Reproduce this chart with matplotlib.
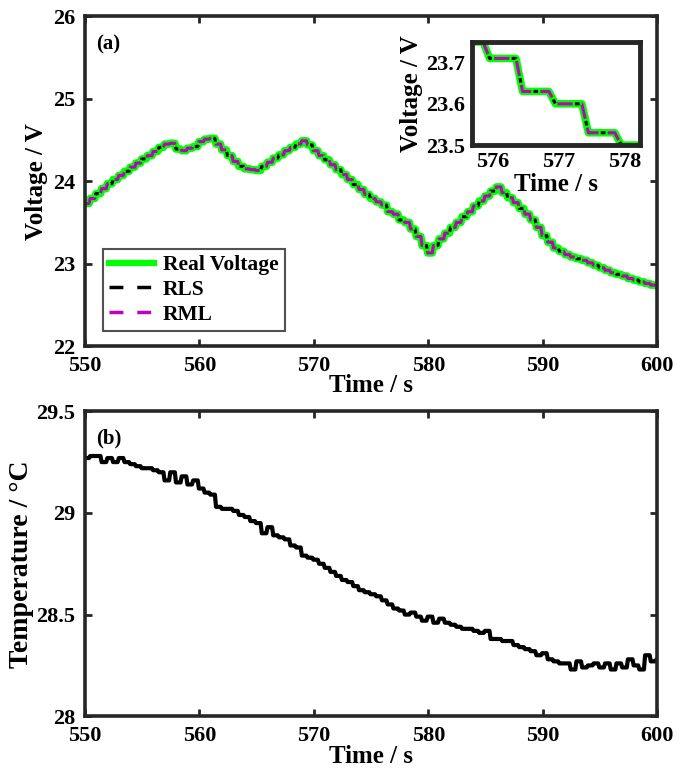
import numpy as np
import matplotlib as mpl

mpl.use("Agg")
from matplotlib import pyplot as plt
from matplotlib.lines import Line2D

plt.rcParams['font.family'] = ['Liberation Serif', 'DejaVu Serif']
plt.rcParams['font.weight'] = 'bold'
plt.rcParams['axes.labelweight'] = 'bold'

# 电压数据, 每 0.5 s 一个值 (550 s ~ 600 s)
volt = [23.73, 23.79, 23.85, 23.91, 23.97, 24.02, 24.07, 24.12, 24.17, 24.22,
        24.27, 24.31, 24.36, 24.41, 24.45, 24.46, 24.39, 24.37, 24.40, 24.42,
        24.48, 24.51, 24.52, 24.45, 24.38, 24.31, 24.24, 24.18, 24.15, 24.14,
        24.13, 24.18, 24.23, 24.28, 24.32, 24.37, 24.41, 24.45, 24.49, 24.44,
        24.37, 24.31, 24.26, 24.20, 24.14, 24.08, 24.02, 23.96, 23.90, 23.84,
        23.79, 23.75, 23.71, 23.63, 23.60, 23.53, 23.50, 23.42, 23.33, 23.22,
        23.13, 23.22, 23.30, 23.37, 23.44, 23.50, 23.57, 23.63, 23.70, 23.76,
        23.82, 23.88, 23.93, 23.86, 23.80, 23.74, 23.67, 23.60, 23.53, 23.44,
        23.34, 23.26, 23.19, 23.15, 23.11, 23.08, 23.06, 23.04, 23.01, 22.98,
        22.95, 22.92, 22.89, 22.87, 22.85, 22.82, 22.80, 22.78, 22.76, 22.74,
        22.73]
# RLS / RML 估计值与实测几乎重合
volt_rls = list(volt)
volt_rml = list(volt)

# 温度数据
temp = [29.27, 29.28, 29.28, 29.25, 29.27, 29.25, 29.27, 29.25, 29.24, 29.23,
        29.22, 29.22, 29.21, 29.20, 29.16, 29.20, 29.15, 29.18, 29.14, 29.16,
        29.12, 29.10, 29.09, 29.03, 29.02, 29.02, 29.01, 28.99, 28.98, 28.96,
        28.95, 28.90, 28.93, 28.89, 28.88, 28.87, 28.84, 28.83, 28.79, 28.78,
        28.77, 28.75, 28.73, 28.71, 28.69, 28.67, 28.66, 28.64, 28.62, 28.61,
        28.60, 28.59, 28.57, 28.55, 28.53, 28.52, 28.50, 28.51, 28.49, 28.47,
        28.49, 28.46, 28.48, 28.46, 28.45, 28.44, 28.43, 28.43, 28.42, 28.41,
        28.42, 28.38, 28.38, 28.37, 28.37, 28.35, 28.34, 28.33, 28.32, 28.30,
        28.31, 28.28, 28.27, 28.26, 28.26, 28.23, 28.27, 28.24, 28.25, 28.26,
        28.24, 28.26, 28.23, 28.26, 28.24, 28.28, 28.25, 28.23, 28.30, 28.27,
        28.28]

_spine_ = '#262626'
_fs_tick_ = 16
_fs_lab_ = 18


def stair(vals, t0=550.0, dt=0.5, hold=0.4):
    # 每个采样值保持 hold 秒, 再用 0.1 s 过渡到下一个值
    t = t0 + dt * np.arange(len(vals)) - 0.05
    x = np.column_stack([t, t + hold]).ravel()
    y = np.repeat(vals, 2)
    return x, y


def style_ax(ax, fs=_fs_tick_):
    for s in ax.spines.values():
        s.set_linewidth(2.6)
        s.set_color(_spine_)
    ax.tick_params(direction='in', top=True, right=True, length=5, width=2,
                   color=_spine_, labelsize=fs, pad=7)


def draw_volt(ax):
    x, y = stair(volt)
    ax.plot(x, y, color='#00FF00', lw=5.5)
    x, y = stair(volt_rml)
    ax.plot(x, y, color='#BF00BF', lw=2.2, ls=(0, (5, 3)))
    x, y = stair(volt_rls)
    ax.plot(x, y, color='black', lw=2.2, ls=(2.25, (1.5, 6.5)))


f = plt.figure(figsize=(6.77, 7.76), dpi=100)

ax1 = f.add_axes([0.1256, 0.554, 0.845, 0.425])
draw_volt(ax1)
ax1.set_xlim(550, 600)
ax1.set_ylim(22, 26)
ax1.set_xticks(range(550, 601, 10))
ax1.set_yticks([22, 23, 24, 25, 26])
style_ax(ax1)
ax1.set_xlabel('Time / s', fontsize=_fs_lab_, labelpad=-1)
ax1.set_ylabel('Voltage / V', fontsize=_fs_lab_, labelpad=4)
ax1.text(0.02, 0.945, '(a)', transform=ax1.transAxes, fontsize=15, fontweight='bold', va='top')
handles = [Line2D([], [], color='#00FF00', lw=4.5),
           Line2D([], [], color='black', lw=2.5, ls=(0, (4, 4))),
           Line2D([], [], color='#BF00BF', lw=2.5, ls=(0, (4, 4)))]
leg = ax1.legend(handles, ['Real Voltage', 'RLS', 'RML'], loc='lower left',
                 bbox_to_anchor=(0.031, 0.045), fontsize=15.5, frameon=True,
                 fancybox=False, edgecolor=_spine_, handlelength=2.1, borderpad=0.3,
                 labelspacing=0.22, handletextpad=0.4, borderaxespad=0)
leg.get_frame().set_linewidth(1.5)

# 局部放大
ax_in = f.add_axes([0.697, 0.813, 0.248, 0.133])
draw_volt(ax_in)
ax_in.set_xlim(575.68, 578.23)
ax_in.set_ylim(23.5, 23.75)
ax_in.set_xticks([576, 577, 578])
ax_in.set_yticks([23.5, 23.6, 23.7])
ax_in.set_yticklabels(['23.5', '23.6', '23.7'])
style_ax(ax_in)
ax_in.tick_params(top=False, right=False, length=0, pad=5)
for s in ax_in.spines.values():
    s.set_linewidth(3.5)
ax_in.set_xlabel('Time / s', fontsize=_fs_lab_, labelpad=1)
ax_in.set_ylabel('Voltage / V', fontsize=_fs_lab_, labelpad=2)

ax2 = f.add_axes([0.1256, 0.077, 0.845, 0.393])
x, y = stair(temp)
ax2.plot(x, y, color='black', lw=3)
ax2.set_xlim(550, 600)
ax2.set_ylim(28, 29.5)
ax2.set_xticks(range(550, 601, 10))
ax2.set_yticks([28, 28.5, 29, 29.5])
ax2.set_yticklabels(['28', '28.5', '29', '29.5'])
style_ax(ax2)
ax2.set_xlabel('Time / s', fontsize=_fs_lab_, labelpad=-1)
ax2.set_ylabel('Temperature / °C', fontsize=20, labelpad=2)
ax2.text(0.02, 0.945, '(b)', transform=ax2.transAxes, fontsize=15, fontweight='bold', va='top')

f.savefig('out.png', dpi=100)
